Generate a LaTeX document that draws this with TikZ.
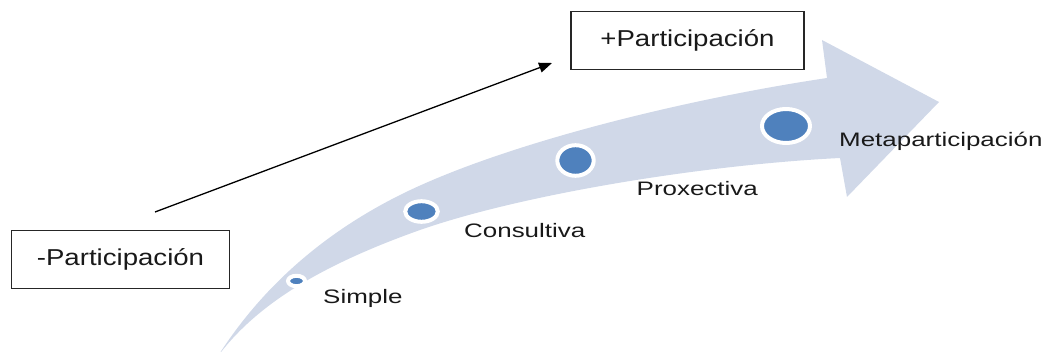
\documentclass[tikz,border=0pt]{standalone}
\usepackage{fontspec}
\usepackage{graphicx}
\setmainfont{Liberation Sans}
\usetikzlibrary{arrows.meta,shapes.geometric}

\definecolor{bandfill}{RGB}{208,216,232}
\definecolor{dotblue}{RGB}{79,129,189}
\definecolor{inktext}{RGB}{25,25,25}

% horizontally widened text
\newcommand{\widetext}[2]{\scalebox{#1}[1]{#2}}

\tikzset{
  stage/.style={ellipse, fill=dotblue, draw=white, line width=4pt, inner sep=0pt},
  stagelabel/.style={anchor=base west, inner sep=0pt, text=inktext,
    font=\fontsize{19.5}{20}\selectfont},
  levelbox/.style={draw=black!85, line width=1.2pt, inner sep=0pt, text=inktext,
    font=\fontsize{23}{24}\selectfont},
}

\begin{document}
\begin{tikzpicture}[x=1pt,y=-1pt]
\useasboundingbox (0,0) rectangle (1045,352);

% curved band with arrowhead
\begin{scope}
\clip (0,0) rectangle (1045,352);
\fill[bandfill]
  (218,356) .. controls (260,290) and (320,235) .. (400,195)
            .. controls (500,145) and (680,100) .. (827,78)
  -- (822,40) -- (939,102) -- (847,197) -- (840,158)
            .. controls (700,165) and (520,195) .. (420,230)
            .. controls (330,262) and (260,300) .. (218,356) -- cycle;
\end{scope}

% stage markers
\node[stage, minimum width=17pt, minimum height=10.4pt] (d1) at (296.5,281) {};
\node[stage, minimum width=32.6pt, minimum height=20.6pt] (d2) at (421.5,211.5) {};
\node[stage, minimum width=36.4pt, minimum height=30.6pt] (d3) at (575.5,160.5) {};
\node[stage, minimum width=48pt, minimum height=34pt] (d4) at (786,126) {};

% stage labels
\node[stagelabel] (l1) at (323,303.5) {\widetext{1.33}{Simple}};
\node[stagelabel] (l2) at (464,237.5) {\widetext{1.33}{Consultiva}};
\node[stagelabel] (l3) at (636.5,196) {\widetext{1.33}{Proxectiva}};
\node[stagelabel] (l4) at (839,146.5) {\widetext{1.33}{Metaparticipación}};

% participation levels
\node[levelbox, minimum width=218pt, minimum height=57.5pt] (lo) at (120.5,259.5)
  {\widetext{1.2}{-Participación}};
\node[levelbox, minimum width=233pt, minimum height=57.5pt] (hi) at (687.5,40.5)
  {\widetext{1.2}{+Participación}};

% trend arrow
\coordinate (from) at (155,212);
\coordinate (to) at (552,63);
\draw[line width=1.3pt, -{Triangle[length=13pt, width=10pt]}] (from) -- (to);
\end{tikzpicture}
\end{document}
